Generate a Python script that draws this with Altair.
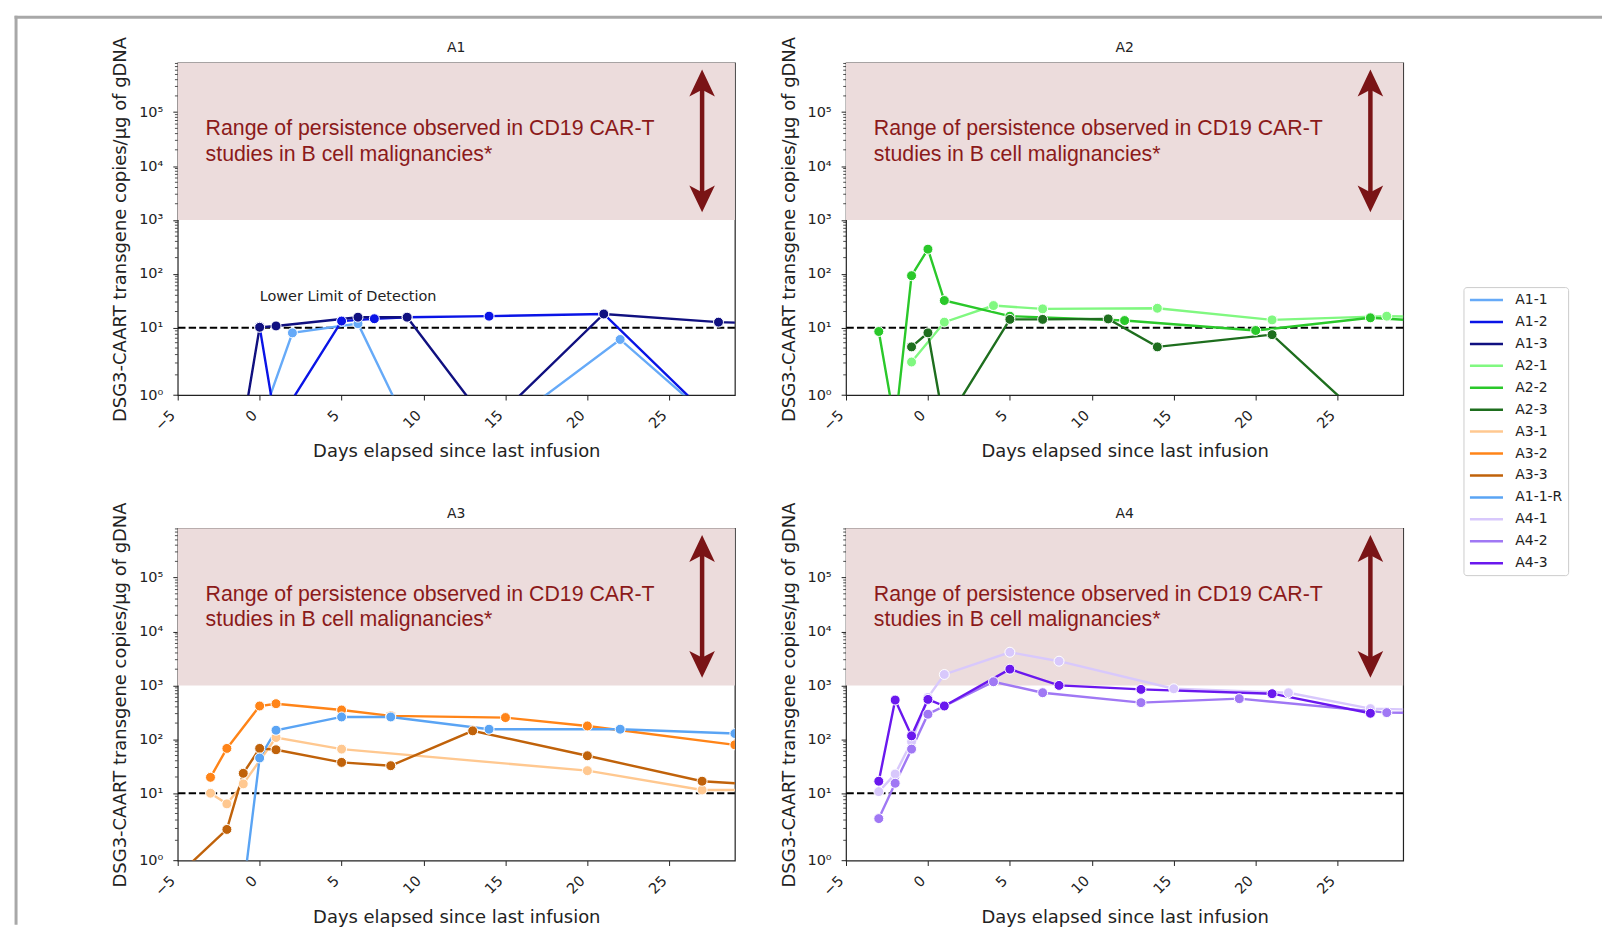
import math
import altair as alt
import pandas as pd

# ---------------- data (0 = not detected) ----------------
A1_1_days = [0, 2, 6, 9, 15, 22, 28]
A1_1_vals = [0, 8.4, 11.9, 0, 0, 6.7, 0]
A1_2_days = [0, 1, 5, 7, 9, 14, 21, 28]
A1_2_vals = [10.4, 0, 13.3, 14.7, 15.7, 16.4, 18, 0]
A1_3_days = [-1, 0, 1, 6, 9, 14, 21, 28, 35]
A1_3_vals = [0, 10.2, 10.8, 15.7, 15.7, 0, 18, 12.7, 11]

A2_1_days = [-1, 1, 4, 7, 14, 21, 28, 35]
A2_1_vals = [3.1, 12.7, 25.8, 22.4, 23, 14, 16.4, 15]
A2_2_days = [-3, -2, -1, 0, 1, 5, 12, 20, 27, 31]
A2_2_vals = [8.8, 0, 92.5, 287, 32, 16.4, 13.6, 9.1, 15.3, 13]
A2_3_days = [-1, 0, 1, 5, 7, 11, 14, 21, 27]
A2_3_vals = [5.2, 8.4, 0, 14.3, 14.3, 14.6, 5.2, 7.9, 0]

A3_1_days = [-3, -2, -1, 1, 5, 20, 27, 35]
A3_1_vals = [10, 6.95, 14.9, 108, 65.8, 26.2, 11.5, 11.5]
A3_2_days = [-3, -2, 0, 1, 5, 8, 15, 20, 29]
A3_2_vals = [19.7, 67.8, 415, 458, 350, 272, 253, 177, 79]
A3_3_days = [-6, -2, -1, 0, 1, 5, 8, 13, 20, 27, 31]
A3_3_vals = [0, 2.9, 23.4, 67.8, 64, 37.3, 32.4, 143.6, 49.5, 16.7, 14]
A1_1_R_days = [-1, 0, 1, 5, 8, 14, 22, 29]
A1_1_R_vals = [0, 45, 147.5, 260, 260, 154, 154, 128]

A4_1_days = [-3, -2, -1, 0, 1, 5, 8, 15, 22, 27, 35]
A4_1_vals = [10.7, 22.7, 90, 600, 1596, 4124, 2812, 867, 732, 371, 330]
A4_2_days = [-3, -2, -1, 0, 4, 7, 13, 19, 28, 35]
A4_2_vals = [4.2, 15.3, 65.8, 292, 1170, 732, 479, 568, 313, 300]
A4_3_days = [-3, -2, -1, 0, 1, 5, 8, 13, 21, 27]
A4_3_vals = [16.7, 535, 116, 550, 415, 2004, 1000, 843, 702, 304]

SERIES_NAMES = ["A1-1", "A1-2", "A1-3", "A2-1", "A2-2", "A2-3",
                "A3-1", "A3-2", "A3-3", "A1-1-R", "A4-1", "A4-2", "A4-3"]
SERIES_COLORS = ["#66aaf8", "#0a14e6", "#101080", "#80f880", "#2ac82a", "#1e6e1e",
                 "#ffc890", "#ff8418", "#c0620a", "#5aa4f4", "#d8c8fc", "#a078f4", "#6a18ee"]
SERIES_DATA = {
    "A1-1": (A1_1_days, A1_1_vals), "A1-2": (A1_2_days, A1_2_vals), "A1-3": (A1_3_days, A1_3_vals),
    "A2-1": (A2_1_days, A2_1_vals), "A2-2": (A2_2_days, A2_2_vals), "A2-3": (A2_3_days, A2_3_vals),
    "A3-1": (A3_1_days, A3_1_vals), "A3-2": (A3_2_days, A3_2_vals), "A3-3": (A3_3_days, A3_3_vals),
    "A1-1-R": (A1_1_R_days, A1_1_R_vals),
    "A4-1": (A4_1_days, A4_1_vals), "A4-2": (A4_2_days, A4_2_vals), "A4-3": (A4_3_days, A4_3_vals),
}
PANELS = [("A1", ["A1-1", "A1-2", "A1-3"]),
          ("A2", ["A2-1", "A2-2", "A2-3"]),
          ("A3", ["A3-1", "A3-2", "A3-3", "A1-1-R"]),
          ("A4", ["A4-1", "A4-2", "A4-3"])]

X_TICKS = [-5, 0, 5, 10, 15, 20, 25]
Y_TICK_VALUES = [1, 10, 100, 1000, 10000, 100000]
LLOD = 10
RANGE_LOW = 1000
RANGE_TEXT = ["Range of persistence observed in CD19 CAR-T", "studies in B cell malignancies*"]

# ---------------- styling / layout ----------------
W, H = 559, 333.4
XMIN, XMAX = -5, 29
YMAX = 5.915          # axis position of the top edge (10^5.915)
FLOOR = 0.356         # where undetected (0) values sit, below the axis
POS_EXPR = ("datum.v >= 10 ? log(datum.v)/LN10 : "
            "1 - 1.25*(1 - log(max(datum.v, %g))/LN10)" % FLOOR)


def pos(v):
    if v >= 10:
        return math.log10(v)
    return 1 - 1.25 * (1 - math.log10(max(v, FLOOR)))


YMIN = pos(1)
y_tick_pos = [pos(v) for v in Y_TICK_VALUES]
label_expr = "datum.value < 0 ? '10⁰' : '10' + ['⁰','¹','²','³','⁴','⁵'][round(datum.value)]"

minor_vals = []
for d in range(0, 6):
    for k in range(2, 10):
        val = k * 10 ** d
        if pos(val) <= YMAX:
            minor_vals.append(val)

DARKRED = "#8b1a1a"
ARROW = "#7a1416"
FONT = "DejaVu Sans"

xscale = alt.Scale(domain=[XMIN, XMAX], nice=False, zero=False)
yscale = alt.Scale(domain=[YMIN, YMAX], nice=False, zero=False)
color_scale = alt.Scale(domain=SERIES_NAMES, range=SERIES_COLORS)

XAXIS = alt.Axis(values=X_TICKS, labelAngle=-45, labelAlign="right", labelBaseline="bottom",
                 grid=False, domain=False,
                 tickSize=4.9, tickWidth=1, tickColor="#222",
                 labelFontSize=14.5, labelPadding=18, titlePadding=10,
                 title="Days elapsed since last infusion")
YAXIS = alt.Axis(values=y_tick_pos, labelExpr=label_expr, grid=False,
                 domain=False, tickSize=4.9, tickWidth=1, tickColor="#222",
                 labelFontSize=14.5, labelPadding=10, titlePadding=9,
                 title="DSG3-CAART transgene copies/µg of gDNA")

one = pd.DataFrame({"a": [0]})


def panel(name, members, first=False):
    rows = []
    for s in members:
        days, vals = SERIES_DATA[s]
        for d, v in zip(days, vals):
            rows.append({"series": s, "day": d, "v": v})
    df = pd.DataFrame(rows)

    base = alt.Chart(df).transform_calculate(pos=POS_EXPR)

    pink = alt.Chart(one).mark_rect(color="#ecdcdc").encode(
        x=alt.value(0), x2=alt.value(W),
        y=alt.Y(datum=math.log10(RANGE_LOW), scale=yscale, axis=YAXIS),
        y2=alt.Y2(datum=YMAX))

    txt_df = pd.DataFrame({"t": RANGE_TEXT, "x": [-3.3, -3.3], "y": [4.682, 4.209]})
    txt = alt.Chart(txt_df).mark_text(
        align="left", baseline="middle", font="Liberation Sans", fontSize=21.4,
        color=DARKRED).encode(
        x=alt.X("x:Q", scale=xscale, axis=XAXIS),
        y=alt.Y("y:Q", scale=yscale, axis=YAXIS), text="t:N")

    shaft = alt.Chart(one).mark_rule(color=ARROW, strokeWidth=4.5).encode(
        x=alt.X(datum=27, scale=xscale, axis=XAXIS),
        y=alt.Y(datum=5.50, scale=yscale, axis=YAXIS), y2=alt.Y2(datum=3.43))
    head_up = alt.Chart(one).mark_point(
        shape="M0,-1L0.95,1L0,0.5L-0.95,1Z", filled=True, size=729,
        color=ARROW, opacity=1).encode(
        x=alt.X(datum=27, scale=xscale, axis=XAXIS),
        y=alt.Y(datum=5.541, scale=yscale, axis=YAXIS))
    head_dn = alt.Chart(one).mark_point(
        shape="M0,1L0.95,-1L0,-0.5L-0.95,-1Z", filled=True, size=729,
        color=ARROW, opacity=1).encode(
        x=alt.X(datum=27, scale=xscale, axis=XAXIS),
        y=alt.Y(datum=3.391, scale=yscale, axis=YAXIS))

    llod = alt.Chart(one).mark_rule(color="black", strokeWidth=2.1,
                                    strokeDash=[7.4, 3.2]).encode(
        y=alt.Y(datum=math.log10(LLOD), scale=yscale, axis=YAXIS))

    minor = alt.Chart(pd.DataFrame({"v": minor_vals})).transform_calculate(
        pos=POS_EXPR).mark_rule(color="#222", strokeWidth=0.8).encode(
        x=alt.value(-2.8), x2=alt.value(0),
        y=alt.Y("pos:Q", scale=yscale, axis=YAXIS))

    lines = base.mark_line(strokeWidth=2.4, clip=True).encode(
        x=alt.X("day:Q", scale=xscale, axis=XAXIS),
        y=alt.Y("pos:Q", scale=yscale, axis=YAXIS),
        color=alt.Color("series:N", scale=color_scale,
                        legend=alt.Legend(orient="none", legendX=1290, legendY=225,
                                          title=None)),
        detail="series:N",
        order="day:Q")

    points = base.mark_circle(size=100, opacity=1, stroke="white", strokeWidth=1,
                              clip=True).encode(
        x=alt.X("day:Q", scale=xscale, axis=XAXIS),
        y=alt.Y("pos:Q", scale=yscale, axis=YAXIS),
        color=alt.Color("series:N", scale=color_scale, legend=None))

    title = alt.Chart(pd.DataFrame({"t": [name]})).mark_text(
        align="center", baseline="middle", font=FONT, fontSize=14, color="#222").encode(
        x=alt.value(W / 2), y=alt.value(-14.5), text="t:N")

    layers = [pink, txt, shaft, head_up, head_dn, minor, llod, lines, points, title]

    if first:
        lab = alt.Chart(pd.DataFrame({"t": ["Lower Limit of Detection"], "x": [0], "y": [1.575]})
                        ).mark_text(align="left", baseline="middle", font=FONT,
                                    fontSize=14.5, color="#222").encode(
            x=alt.X("x:Q", scale=xscale, axis=XAXIS),
            y=alt.Y("y:Q", scale=yscale, axis=YAXIS), text="t:N")
        frame_top = alt.Chart(one).mark_rule(color="#a8a8a8", strokeWidth=3).encode(
            x=alt.value(-163.7), x2=alt.value(1429), y=alt.value(-45.8))
        frame_left = alt.Chart(one).mark_rule(color="#a8a8a8", strokeWidth=3).encode(
            x=alt.value(-162.2), y=alt.value(-47.3), y2=alt.value(864.7))
        layers += [lab, frame_top, frame_left]

    return alt.layer(*layers).properties(width=W, height=H)


p = [panel(n, m, first=(i == 0)) for i, (n, m) in enumerate(PANELS)]
chart = alt.concat(*p, columns=2, spacing={"row": 133, "column": 111.5},
                   bounds="flush").properties(
    padding={"left": 12.3, "top": 11.5, "right": 0, "bottom": 0},
    background="white"
).configure_view(
    stroke="#222", strokeWidth=1.2
).configure_axis(
    labelFont=FONT, titleFont=FONT, titleFontSize=18, titleFontWeight="normal",
    labelColor="#222", titleColor="#222"
).configure_legend(
    symbolType="M-1,0H4.1", symbolSize=169, symbolStrokeWidth=2.5,
    labelFont=FONT, labelFontSize=14, labelColor="#222", labelOffset=31,
    rowPadding=7, padding=5, strokeColor="#cccccc", fillColor="white",
    cornerRadius=3
)

chart.save("out.html", embed_options={"renderer": "svg", "actions": False})
